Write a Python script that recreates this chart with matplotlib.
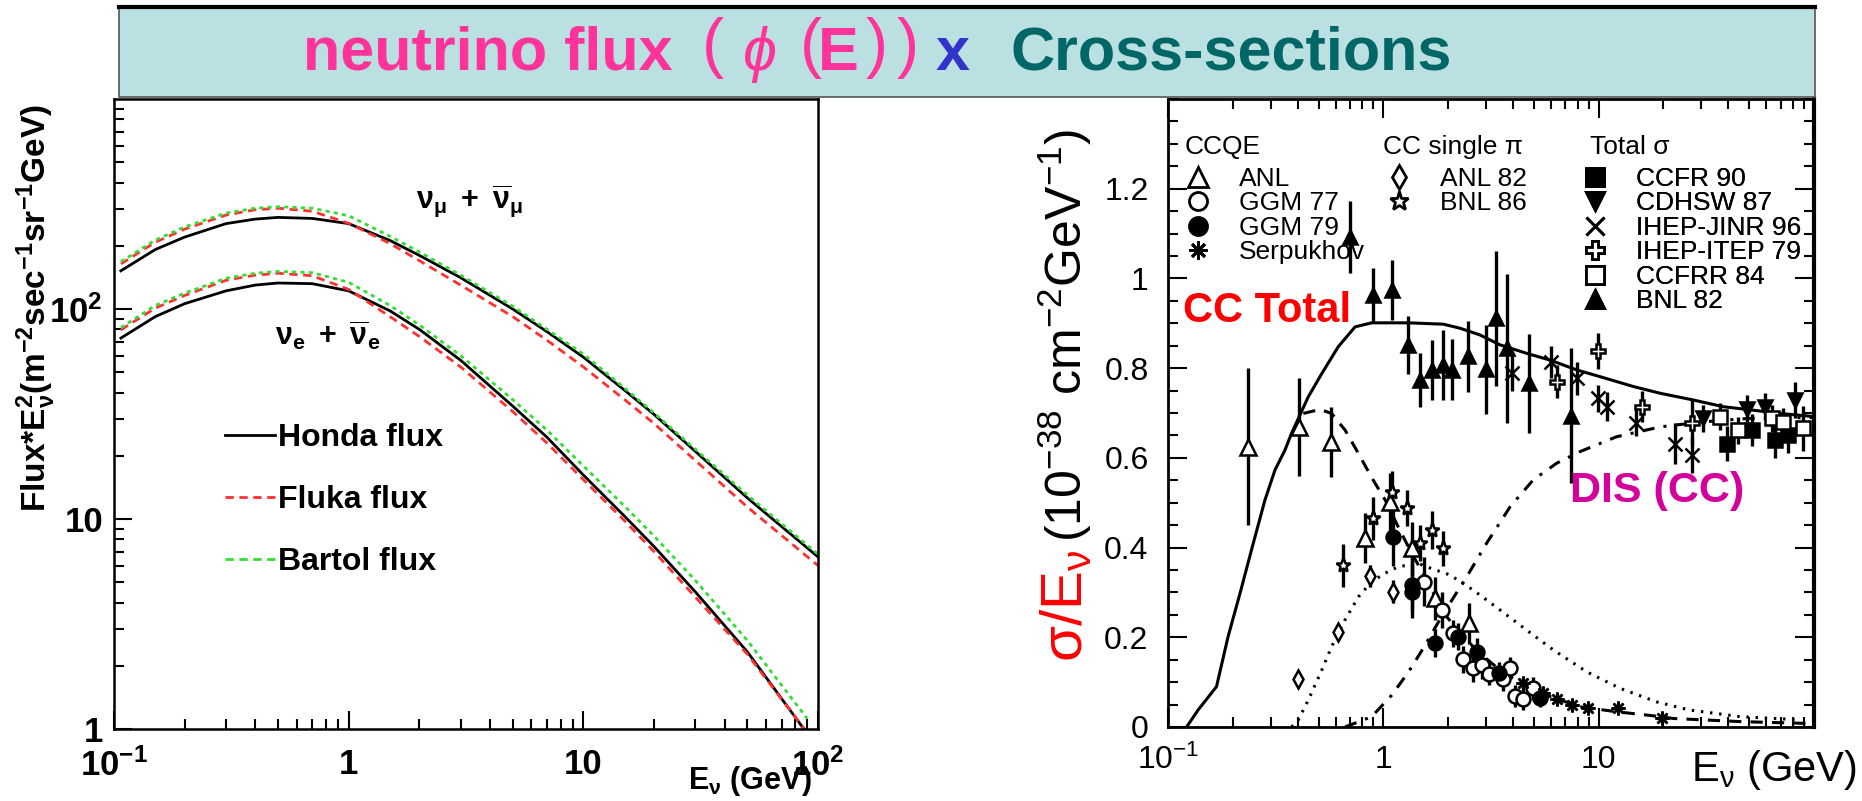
import matplotlib
matplotlib.use("Agg")
import matplotlib.pyplot as plt
from matplotlib.lines import Line2D
from matplotlib.patches import Rectangle
from matplotlib.ticker import FixedLocator, MultipleLocator, LogLocator, NullFormatter

plt.rcParams['font.family'] = ['Liberation Sans', 'DejaVu Sans']
plt.rcParams['mathtext.fontset'] = 'custom'
plt.rcParams['mathtext.rm'] = 'Liberation Sans'
plt.rcParams['mathtext.it'] = 'Liberation Sans:italic'
plt.rcParams['mathtext.bf'] = 'Liberation Sans:bold'

# ---------------- left panel: atmospheric flux * E^2 ----------------
e_flux = [0.107, 0.15, 0.2, 0.3, 0.4, 0.5, 0.7, 1, 1.5, 2, 3, 5, 7, 10, 15, 20, 30, 50, 100]
numu_honda = [152, 192, 220, 255, 268, 273, 270, 255, 212, 180, 141, 100, 78, 59, 41, 31.5, 21, 12.6, 6.6]
numu_fluka = [164, 208, 240, 280, 297, 302, 292, 256, 205, 170, 130, 92, 71, 53, 37, 28.5, 19, 11.4, 6.0]
numu_bartol = [168, 213, 246, 286, 302, 307, 302, 278, 222, 187, 145, 103, 80, 61, 42, 32, 21.5, 13, 6.8]

e_flux_e = [0.107, 0.15, 0.2, 0.3, 0.4, 0.5, 0.7, 1, 1.5, 2, 3, 5, 7, 10, 15, 20, 30, 50, 90]
nue_honda = [72.7, 92, 106, 122, 130, 133, 132, 122, 98, 80, 57, 34.5, 24.5, 16.2, 10.3, 7.4, 4.5, 2.33, 0.95]
nue_fluka = [79.6, 101, 116, 137, 145, 148, 144, 124, 92, 74, 53, 32.5, 23, 15.4, 9.8, 7.0, 4.25, 2.27, 0.96]
nue_bartol = [81.5, 104, 119, 140, 148, 151, 149, 134, 104, 84, 60, 37, 26.5, 17.9, 11.5, 8.3, 5.1, 2.64, 1.12]

flux_labels = ['Honda flux', 'Fluka flux', 'Bartol flux']
flux_xticks = [0.1, 1, 10, 100]
flux_xticklabels = [r'$\mathbf{10^{-1}}$', '1', '10', r'$\mathbf{10^{2}}$']
flux_yticks = [1, 10, 100]
flux_yticklabels = ['1', '10', r'$\mathbf{10^{2}}$']

# ---------------- right panel: cross sections ----------------
e_total = [0.122, 0.138, 0.168, 0.190, 0.216, 0.249, 0.282, 0.314, 0.349, 0.375, 0.448,
           0.518, 0.618, 0.739, 0.883, 1.31, 1.90, 2.27, 2.81, 3.48, 4.63, 5.94, 7.91,
           10.15, 14.5, 19.3, 27.5, 37.9, 48.7, 69.7, 100]
s_total = [0.0, 0.038, 0.09, 0.201, 0.298, 0.41, 0.506, 0.573, 0.617, 0.655, 0.736,
           0.788, 0.848, 0.892, 0.901, 0.901, 0.898, 0.889, 0.874, 0.852, 0.833, 0.818, 0.796,
           0.781, 0.759, 0.744, 0.729, 0.714, 0.708, 0.699, 0.692]

e_qe = [0.425, 0.508, 0.575, 0.664, 0.766, 0.883, 1.02, 1.17, 1.355, 1.56, 1.71, 1.97,
        2.27, 2.81, 3.48, 4.47, 5.94, 8.2, 12.1, 17.9, 22.2, 45.6, 92.7]
s_qe = [0.699, 0.708, 0.699, 0.662, 0.610, 0.556, 0.506, 0.447, 0.387, 0.335, 0.298, 0.246,
        0.209, 0.164, 0.127, 0.094, 0.068, 0.045, 0.034, 0.025, 0.019, 0.012, 0.008]

e_pi = [0.375, 0.403, 0.448, 0.518, 0.575, 0.664, 0.766, 0.883, 1.02, 1.17, 1.45, 1.59,
        2.04, 2.62, 3.48, 4.63, 6.15, 8.80, 12.6, 18.6, 26.3, 45.6, 86.7]
s_pi = [0.0, 0.016, 0.06, 0.127, 0.179, 0.239, 0.29, 0.324, 0.343, 0.357, 0.365, 0.357,
        0.339, 0.305, 0.261, 0.216, 0.172, 0.123, 0.086, 0.056, 0.038, 0.023, 0.016]

e_dis = [0.664, 0.883, 1.094, 1.31, 1.53, 1.90, 2.44, 3.02, 3.88, 4.97, 6.38, 8.2, 12.1,
         19.3, 30, 50, 100]
s_dis = [0.0, 0.023, 0.071, 0.123, 0.175, 0.253, 0.335, 0.41, 0.491, 0.551, 0.588, 0.614,
         0.647, 0.669, 0.68, 0.688, 0.69]

# CCQE data
anl_e = [0.236, 0.407, 0.570, 0.822, 1.074, 1.355, 1.74, 2.50]
anl_s = [0.625, 0.669, 0.636, 0.421, 0.502, 0.398, 0.287, 0.231]
anl_err = [0.175, 0.11, 0.078, 0.056, 0.065, 0.06, 0.048, 0.046]

ggm77_e = [1.55, 1.88, 2.10, 2.35, 2.60, 2.86, 3.11, 3.61, 3.88, 4.09, 4.47, 4.97]
ggm77_s = [0.324, 0.261, 0.209, 0.151, 0.131, 0.138, 0.118, 0.106, 0.131, 0.069, 0.062, 0.086]
ggm77_err = [0.054, 0.04, 0.03, 0.03, 0.03, 0.03, 0.025, 0.025, 0.025, 0.025, 0.025, 0.025]

ggm79_e = [1.106, 1.355, 1.355, 1.73, 2.23, 2.72, 3.46, 5.35]
ggm79_s = [0.423, 0.317, 0.302, 0.187, 0.201, 0.168, 0.121, 0.064]
ggm79_err = [0.065, 0.06, 0.06, 0.032, 0.03, 0.03, 0.025, 0.02]

serp_e = [4.47, 5.53, 6.38, 7.50, 8.96, 12.35, 19.6]
serp_s = [0.097, 0.075, 0.062, 0.049, 0.042, 0.042, 0.019]
serp_err = [0.012, 0.01, 0.01, 0.008, 0.008, 0.008, 0.008]

# CC single pi data
anl82_e = [0.400, 0.614, 0.868, 1.11]
anl82_s = [0.108, 0.212, 0.337, 0.302]
anl82_err = [0.01, 0.01, 0.025, 0.025]

bnl86_e = [0.648, 0.893, 1.094, 1.29, 1.48, 1.69, 1.89]
bnl86_s = [0.361, 0.465, 0.525, 0.488, 0.41, 0.439, 0.398]
bnl86_err = [0.048, 0.048, 0.046, 0.04, 0.04, 0.043, 0.04]

# total cross section data
ccfr90_e = [39.6, 51.4, 65.9, 76.0]
ccfr90_s = [0.632, 0.662, 0.640, 0.651]
ccfr90_err = [0.04, 0.035, 0.04, 0.04]

cdhsw_e = [30.6, 48.7, 59.3, 81.6]
cdhsw_s = [0.688, 0.710, 0.714, 0.729]
cdhsw_err = [0.03, 0.03, 0.03, 0.04]

jinr_e = [3.95, 5.99, 7.91, 9.97, 10.9, 14.9, 22.6, 27.1]
jinr_s = [0.790, 0.814, 0.777, 0.733, 0.714, 0.678, 0.632, 0.606]
jinr_err = [0.04, 0.035, 0.036, 0.03, 0.032, 0.03, 0.045, 0.04]

itep_e = [6.38, 9.97, 15.85, 27.1]
itep_s = [0.770, 0.838, 0.714, 0.678]
itep_err = [0.037, 0.04, 0.035, 0.05]

ccfrr_e = [36.6, 44.5, 63.7, 72.1, 89.3]
ccfrr_s = [0.692, 0.662, 0.688, 0.681, 0.666]
ccfrr_err = [0.03, 0.03, 0.03, 0.03, 0.05]

bnl82_e = [0.70, 0.896, 1.094, 1.298, 1.48, 1.69, 1.89, 2.09, 2.48, 3.0, 3.34, 3.74, 4.73, 7.46]
bnl82_s = [1.092, 0.963, 0.974, 0.852, 0.774, 0.796, 0.807, 0.796, 0.826, 0.797, 0.911, 0.844, 0.766, 0.694]
bnl82_err = [0.08, 0.06, 0.067, 0.065, 0.06, 0.066, 0.078, 0.068, 0.08, 0.10, 0.15, 0.166, 0.11, 0.15]

xs_xticks = [0.1, 1, 10]
xs_xticklabels = [r'$10^{-1}$', '1', '10']
xs_yticks = [0, 0.2, 0.4, 0.6, 0.8, 1.0, 1.2]
xs_yticklabels = ['0', '0.2', '0.4', '0.6', '0.8', '1', '1.2']

PINK = '#ff3399'
TEAL = '#006666'
BLUE = '#3333cc'

fig = plt.figure(figsize=(18.62, 8.01), dpi=100)
W, H = 1862.0, 801.0


def fx(px):
    return px / W


def fy(py):
    return 1 - py / H


# banner
fig.patches.append(Rectangle((fx(119), fy(97)), fx(1815) - fx(119), fy(7) - fy(97),
                             transform=fig.transFigure, facecolor='#bae0e2',
                             edgecolor='#555555', lw=1.2, zorder=0))
fig.add_artist(Line2D([fx(119), fx(1815)], [fy(7), fy(7)], color='k', lw=3,
                      transform=fig.transFigure))
base = fy(70)
fig.text(fx(303), base, 'neutrino flux', color=PINK, fontsize=44, fontweight='bold', va='baseline')
fig.text(fx(702), base + 0.006, '(', color=PINK, fontsize=48, va='baseline')
fig.text(fx(742), base, r'$\phi$', color=PINK, fontsize=44, va='baseline')
fig.text(fx(800), base + 0.006, '(', color=PINK, fontsize=48, va='baseline')
fig.text(fx(818), base, 'E', color=PINK, fontsize=44, fontweight='bold', va='baseline')
fig.text(fx(866), base + 0.006, ')', color=PINK, fontsize=48, va='baseline')
fig.text(fx(897), base + 0.006, ')', color=PINK, fontsize=48, va='baseline')
fig.text(fx(936), base, 'x', color=BLUE, fontsize=44, fontweight='bold', va='baseline')
fig.text(fx(1010), base, 'Cross-sections', color=TEAL, fontsize=44, fontweight='bold', va='baseline')

# ---------------- left panel ----------------
ax1 = fig.add_axes([fx(114), fy(729), fx(818) - fx(114), fy(99) - fy(729)])
ax1.set_xscale('log')
ax1.set_yscale('log')
ax1.set_xlim(0.1, 100)
ax1.set_ylim(1, 1000)

styles = [dict(color='k', lw=2.0, ls='-'),
          dict(color='#ff3030', lw=2.0, ls=(0, (3, 2))),
          dict(color='#33dd33', lw=2.0, ls=(0, (1.5, 1.5)))]
for ys, st in zip([numu_honda, numu_fluka, numu_bartol], styles):
    ax1.plot(e_flux, ys, **st)
for ys, st in zip([nue_honda, nue_fluka, nue_bartol], styles):
    ax1.plot(e_flux_e, ys, **st)

leg_handles = [Line2D([], [], color='k', lw=2.0),
               Line2D([], [], color='#ff3030', lw=2.0, ls=(0, (3, 2))),
               Line2D([], [], color='#33dd33', lw=2.0, ls=(0, (3, 2)))]
ax1.legend(leg_handles, flux_labels, loc='upper left', bbox_to_anchor=(0.158, 0.485),
           frameon=False, borderpad=0, borderaxespad=0, handlelength=1.56,
           handletextpad=0.1, labelspacing=1.0,
           prop=dict(size=23, weight='bold'))

ax1.text(0.429, 0.838, r'$\mathbf{\nu_{\mu}\ +\ \overline{\nu}_{\mu}}$', transform=ax1.transAxes,
         fontsize=22, va='center', ha='left')
ax1.text(0.229, 0.625, r'$\mathbf{\nu_{e}\ +\ \overline{\nu}_{e}}$', transform=ax1.transAxes,
         fontsize=22, va='center', ha='left')

ax1.xaxis.set_major_locator(FixedLocator(flux_xticks))
ax1.set_xticklabels(flux_xticklabels)
ax1.yaxis.set_major_locator(FixedLocator(flux_yticks))
ax1.set_yticklabels(flux_yticklabels)
ax1.xaxis.set_minor_locator(LogLocator(base=10, subs=range(2, 10)))
ax1.yaxis.set_minor_locator(LogLocator(base=10, subs=range(2, 10)))
ax1.xaxis.set_minor_formatter(NullFormatter())
ax1.yaxis.set_minor_formatter(NullFormatter())
ax1.tick_params(which='both', direction='in', width=1.5)
ax1.tick_params(which='major', length=13, labelsize=25)
ax1.tick_params(which='minor', length=7)
ax1.tick_params(axis='x', pad=14)
ax1.tick_params(axis='y', pad=8)
for lab in ax1.get_xticklabels() + ax1.get_yticklabels():
    lab.set_fontweight('bold')
for sp in ax1.spines.values():
    sp.set_linewidth(1.8)

fig.text(fx(36), fy(104),
         r'Flux*E$_{\mathbf{\nu}}^{\mathbf{2}}$(m$^{\mathbf{-2}}$sec$^{\mathbf{-1}}$sr$^{\mathbf{-1}}$GeV)',
         rotation=90, ha='center', va='top', fontsize=24, fontweight='bold')
fig.text(fx(812), fy(798), r'E$_{\mathbf{\nu}}$ (GeV)', ha='right', va='bottom',
         fontsize=22, fontweight='bold')

# ---------------- right panel ----------------
ax2 = fig.add_axes([fx(1168), fy(727), fx(1814) - fx(1168), fy(99) - fy(727)])
ax2.set_xscale('log')
ax2.set_xlim(0.1, 100)
ax2.set_ylim(0, 1.4)

ax2.plot(e_total, s_total, color='k', lw=2.2)
ax2.plot(e_qe, s_qe, color='k', lw=2.2, ls=(0, (4, 3)))
ax2.plot(e_pi, s_pi, color='k', lw=2.2, ls=(0, (0.8, 2.2)))
ax2.plot(e_dis, s_dis, color='k', lw=2.2, ls=(0, (4, 3, 1, 3)))

experiments = [
    (anl_e, anl_s, anl_err, dict(marker='^', mfc='white', ms=11)),
    (ggm77_e, ggm77_s, ggm77_err, dict(marker='o', mfc='white', ms=10)),
    (ggm79_e, ggm79_s, ggm79_err, dict(marker='o', mfc='k', ms=10)),
    (serp_e, serp_s, serp_err, dict(marker=(8, 2, 0), mfc='k', ms=10)),
    (anl82_e, anl82_s, anl82_err, dict(marker='d', mfc='white', ms=9)),
    (bnl86_e, bnl86_s, bnl86_err, dict(marker='*', mfc='white', ms=11)),
    (ccfr90_e, ccfr90_s, ccfr90_err, dict(marker='s', mfc='k', ms=10)),
    (cdhsw_e, cdhsw_s, cdhsw_err, dict(marker='v', mfc='k', ms=10)),
    (jinr_e, jinr_s, jinr_err, dict(marker='x', mfc='k', ms=10)),
    (itep_e, itep_s, itep_err, dict(marker='P', mfc='white', ms=10)),
    (ccfrr_e, ccfrr_s, ccfrr_err, dict(marker='s', mfc='white', ms=10)),
    (bnl82_e, bnl82_s, bnl82_err, dict(marker='^', mfc='k', ms=10)),
]
for e, s, err, mk in experiments:
    ax2.errorbar(e, s, yerr=err, ls='none', ecolor='k', elinewidth=2.4, capsize=0,
                 mec='k', mew=1.8, **mk)

ccqe_labels = ['ANL', 'GGM 77', 'GGM 79', 'Serpukhov']
pi_labels = ['ANL 82', 'BNL 86']
total_labels = ['CCFR 90', 'CDHSW 87', 'IHEP-JINR 96', 'IHEP-ITEP 79', 'CCFRR 84', 'BNL 82']


def proxies(specs):
    return [Line2D([], [], ls='none', mec='k', mew=2, **dict(sp, ms=sp['ms'] + 3)) for sp in specs]


groups = [
    (proxies([x[3] for x in experiments[0:4]]), ccqe_labels, 0.024),
    (proxies([x[3] for x in experiments[4:6]]), pi_labels, 0.335),
    (proxies([x[3] for x in experiments[6:12]]), total_labels, 0.638),
]
for handles, labels, x0 in groups:
    lg = ax2.legend(handles, labels, loc='upper left', bbox_to_anchor=(x0, 0.892),
                    frameon=False, borderpad=0, borderaxespad=0, handlelength=1.1,
                    handletextpad=1.0, labelspacing=0.02, fontsize=19)
    ax2.add_artist(lg)

for txt, x0 in [('CCQE', 0.026), ('CC single π', 0.333), ('Total σ', 0.653)]:
    ax2.text(x0, 0.9236, txt, transform=ax2.transAxes, fontsize=19, va='center', ha='left')

ax2.text(0.023, 0.662, 'CC Total', transform=ax2.transAxes, color='#ff0000',
         fontsize=30, fontweight='bold', va='center', ha='left')
ax2.text(0.622, 0.376, 'DIS (CC)', transform=ax2.transAxes, color='#d4009b',
         fontsize=31, fontweight='bold', va='center', ha='left')

ax2.xaxis.set_major_locator(FixedLocator(xs_xticks))
ax2.set_xticklabels(xs_xticklabels)
ax2.yaxis.set_major_locator(FixedLocator(xs_yticks))
ax2.set_yticklabels(xs_yticklabels)
ax2.yaxis.set_minor_locator(MultipleLocator(0.05))
ax2.xaxis.set_minor_locator(LogLocator(base=10, subs=range(2, 10)))
ax2.xaxis.set_minor_formatter(NullFormatter())
ax2.tick_params(which='both', direction='in', top=True, right=True, width=1.5)
ax2.tick_params(which='major', length=14, labelsize=23)
ax2.tick_params(which='minor', length=7)
ax2.tick_params(axis='x', pad=13)
ax2.tick_params(axis='y', pad=14)
for sp in ax2.spines.values():
    sp.set_linewidth(2.0)
ax2.spines['right'].set_linewidth(3.0)

fig.text(fx(1082), fy(129), r'(10$^{-38}$ cm$^{-2}$GeV$^{-1}$)', rotation=90,
         rotation_mode='anchor', ha='right', va='baseline', fontsize=36)
fig.text(fx(1082), fy(662), r'σ/E$_{\mathrm{\nu}}$', rotation=90, rotation_mode='anchor',
         ha='left', va='baseline', fontsize=42, color='#ff0000')
fig.text(fx(1857), fy(770), r'E$_{\mathrm{\nu}}$ (GeV)', ha='right', va='center', fontsize=30)

fig.savefig('out.png', dpi=100)
